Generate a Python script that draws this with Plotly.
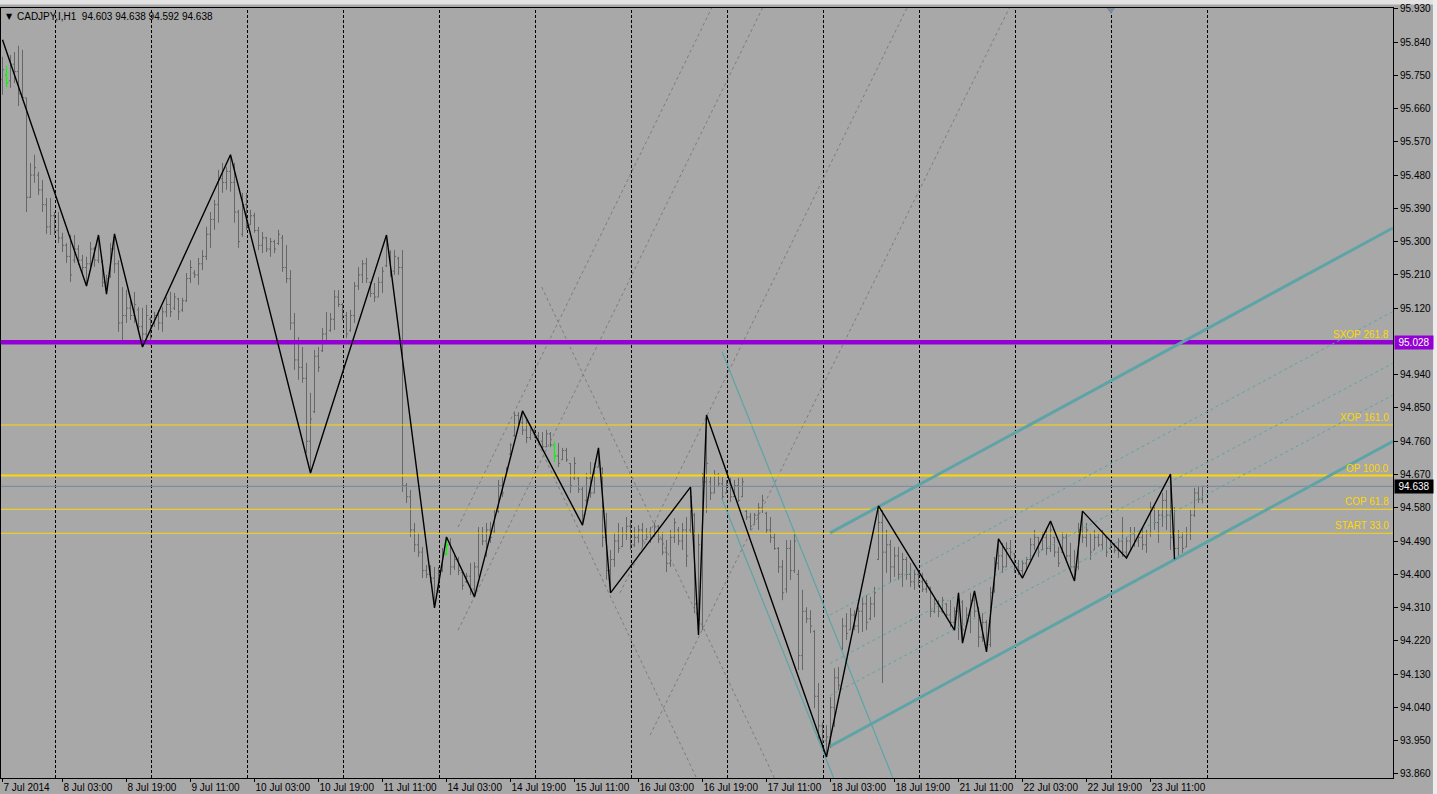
import plotly.graph_objects as go

# ---------------- data ----------------
bar_high = [
95.800,95.775,95.805,95.813,95.830,95.819,95.689,95.513,95.535,95.489,
95.467,95.418,95.418,95.380,95.380,95.324,95.296,95.318,95.318,95.291,
95.264,95.259,95.299,95.286,95.318,95.250,95.210,95.296,95.321,95.250,
95.177,95.169,95.142,95.164,95.123,95.121,95.129,95.096,95.110,95.115,
95.123,95.150,95.164,95.161,95.148,95.148,95.215,95.250,95.223,95.256,
95.277,95.340,95.380,95.413,95.494,95.513,95.502,95.535,95.513,95.386,
95.432,95.432,95.386,95.378,95.340,95.326,95.313,95.310,95.305,95.332,
95.318,95.291,95.223,95.107,95.042,95.015,94.972,94.891,95.007,95.015,
95.066,95.110,95.107,95.169,95.169,95.134,95.110,95.115,95.191,95.231,
95.250,95.256,95.191,95.188,95.204,95.231,95.318,95.277,95.277,95.259,
95.277,94.647,94.628,94.539,94.512,94.474,94.425,94.425,94.420,94.420,
94.471,94.501,94.498,94.452,94.447,94.406,94.404,94.431,94.433,94.528,
94.528,94.539,94.542,94.574,94.655,94.663,94.690,94.755,94.839,94.839,
94.842,94.818,94.799,94.796,94.785,94.785,94.791,94.785,94.758,94.755,
94.742,94.742,94.701,94.717,94.663,94.636,94.674,94.704,94.701,94.742,
94.690,94.566,94.466,94.512,94.539,94.528,94.555,94.547,94.528,94.533,
94.539,94.525,94.528,94.539,94.533,94.514,94.493,94.520,94.552,94.528,
94.539,94.555,94.636,94.566,94.512,94.674,94.831,94.663,94.682,94.674,
94.663,94.655,94.661,94.655,94.661,94.661,94.574,94.566,94.566,94.593,
94.615,94.569,94.555,94.512,94.474,94.439,94.493,94.493,94.512,94.412,
94.358,94.311,94.303,94.249,94.106,94.000,93.992,94.068,94.146,94.149,
94.282,94.295,94.309,94.303,94.311,94.336,94.344,94.339,94.366,94.585,
94.575,94.520,94.493,94.474,94.474,94.458,94.447,94.431,94.412,94.412,
94.404,94.385,94.366,94.339,94.330,94.339,94.322,94.330,94.311,94.350,
94.330,94.311,94.350,94.355,94.311,94.295,94.276,94.366,94.447,94.496,
94.485,94.487,94.493,94.458,94.439,94.439,94.447,94.498,94.520,94.501,
94.514,94.520,94.544,94.501,94.474,94.514,94.512,94.485,94.466,94.539,
94.571,94.539,94.512,94.520,94.512,94.520,94.501,94.493,94.485,94.498,
94.555,94.501,94.528,94.528,94.512,94.528,94.520,94.596,94.582,94.574,
94.620,94.628,94.671,94.582,94.520,94.514,94.528,94.574,94.634,94.636,
94.638]
bar_low = [
95.697,95.719,95.716,95.729,95.667,95.683,95.380,95.418,95.459,95.426,
95.380,95.321,95.318,95.318,95.296,95.272,95.242,95.191,95.242,95.237,
95.210,95.180,95.232,95.232,95.242,95.177,95.158,95.202,95.215,95.056,
95.034,95.080,95.088,95.080,95.056,95.015,95.029,95.020,95.069,95.061,
95.056,95.096,95.096,95.115,95.088,95.110,95.137,95.188,95.202,95.183,
95.223,95.250,95.283,95.332,95.351,95.432,95.440,95.435,95.351,95.283,
95.313,95.332,95.345,95.324,95.277,95.269,95.272,95.259,95.269,95.291,
95.218,95.188,95.061,94.953,94.926,94.918,94.728,94.674,94.836,94.947,
95.001,95.026,95.056,95.061,95.123,95.088,95.039,95.056,95.080,95.169,
95.188,95.188,95.150,95.137,95.150,95.161,95.231,95.204,95.210,95.210,
94.623,94.593,94.501,94.460,94.447,94.390,94.390,94.377,94.309,94.350,
94.406,94.452,94.398,94.412,94.398,94.358,94.377,94.344,94.339,94.393,
94.479,94.447,94.485,94.512,94.566,94.609,94.663,94.723,94.772,94.799,
94.777,94.755,94.763,94.769,94.755,94.736,94.744,94.744,94.704,94.690,
94.709,94.704,94.620,94.655,94.620,94.533,94.593,94.607,94.620,94.690,
94.474,94.385,94.350,94.420,94.458,94.474,94.493,94.466,94.474,94.485,
94.474,94.493,94.485,94.501,94.485,94.452,94.406,94.420,94.485,94.479,
94.466,94.420,94.512,94.295,94.236,94.249,94.566,94.601,94.620,94.636,
94.601,94.620,94.596,94.609,94.596,94.609,94.547,94.520,94.533,94.520,
94.566,94.512,94.485,94.466,94.404,94.330,94.350,94.385,94.404,94.141,
94.141,94.268,94.241,94.038,93.952,93.930,93.906,93.930,93.987,94.087,
94.195,94.222,94.249,94.249,94.241,94.244,94.249,94.276,94.284,94.439,
94.106,94.404,94.377,94.393,94.385,94.366,94.385,94.366,94.358,94.366,
94.352,94.350,94.284,94.295,94.284,94.295,94.284,94.257,94.249,94.222,
94.214,94.257,94.241,94.284,94.203,94.217,94.190,94.203,94.350,94.412,
94.404,94.420,94.447,94.404,94.398,94.390,94.412,94.439,94.466,94.447,
94.466,94.452,94.460,94.447,94.420,94.458,94.439,94.412,94.382,94.412,
94.485,94.474,94.439,94.466,94.474,94.466,94.447,94.466,94.458,94.444,
94.447,94.444,94.466,94.474,94.474,94.466,94.458,94.501,94.520,94.485,
94.528,94.520,94.466,94.441,94.447,94.458,94.474,94.493,94.555,94.593,
94.592]
bar_open = [
95.738,95.750,95.735,95.780,95.760,95.700,95.689,95.420,95.480,95.480,
95.440,95.400,95.340,95.370,95.330,95.310,95.290,95.260,95.250,95.280,
95.250,95.230,95.240,95.280,95.250,95.245,95.190,95.205,95.280,95.240,
95.080,95.100,95.120,95.100,95.115,95.070,95.050,95.090,95.080,95.100,
95.080,95.110,95.130,95.120,95.145,95.115,95.140,95.200,95.215,95.210,
95.240,95.260,95.320,95.360,95.400,95.470,95.460,95.490,95.460,95.380,
95.320,95.400,95.345,95.370,95.330,95.290,95.310,95.280,95.300,95.295,
95.310,95.230,95.200,95.080,94.980,94.960,94.930,94.760,94.840,94.990,
95.005,95.050,95.060,95.090,95.150,95.130,95.100,95.060,95.100,95.180,
95.210,95.240,95.190,95.160,95.150,95.190,95.235,95.270,95.220,95.255,
95.230,94.640,94.610,94.520,94.480,94.460,94.410,94.400,94.390,94.355,
94.410,94.455,94.480,94.420,94.440,94.405,94.380,94.395,94.360,94.420,
94.510,94.490,94.520,94.515,94.570,94.640,94.665,94.725,94.775,94.830,
94.810,94.790,94.770,94.790,94.775,94.760,94.745,94.780,94.750,94.720,
94.710,94.735,94.700,94.660,94.660,94.630,94.600,94.660,94.620,94.690,
94.685,94.500,94.410,94.440,94.490,94.475,94.510,94.530,94.480,94.500,
94.520,94.495,94.510,94.505,94.530,94.495,94.460,94.430,94.500,94.520,
94.490,94.520,94.520,94.560,94.320,94.480,94.650,94.650,94.620,94.670,
94.645,94.620,94.645,94.610,94.640,94.610,94.570,94.555,94.535,94.560,
94.580,94.565,94.520,94.500,94.470,94.420,94.360,94.470,94.410,94.400,
94.180,94.300,94.280,94.245,94.070,93.990,93.950,93.960,94.040,94.120,
94.200,94.260,94.250,94.290,94.260,94.300,94.320,94.280,94.320,94.440,
94.540,94.460,94.480,94.420,94.450,94.400,94.440,94.400,94.380,94.400,
94.380,94.360,94.365,94.300,94.320,94.300,94.320,94.290,94.270,94.300,
94.325,94.260,94.290,94.330,94.300,94.230,94.270,94.210,94.355,94.430,
94.450,94.420,94.470,94.455,94.420,94.410,94.430,94.440,94.480,94.500,
94.466,94.500,94.470,94.500,94.460,94.460,94.500,94.450,94.420,94.420,
94.520,94.500,94.510,94.466,94.500,94.480,94.500,94.470,94.480,94.465,
94.490,94.460,94.490,94.510,94.490,94.500,94.480,94.510,94.575,94.540,
94.560,94.600,94.560,94.500,94.470,94.500,94.474,94.510,94.560,94.620,
94.603]
bar_close = [
95.765,95.730,95.780,95.760,95.700,95.690,95.420,95.480,95.500,95.440,
95.400,95.340,95.370,95.330,95.310,95.290,95.260,95.210,95.280,95.250,
95.230,95.240,95.280,95.250,95.300,95.190,95.200,95.280,95.240,95.080,
95.100,95.120,95.100,95.130,95.070,95.050,95.100,95.040,95.100,95.080,
95.110,95.130,95.110,95.150,95.110,95.140,95.200,95.230,95.210,95.240,
95.260,95.320,95.360,95.400,95.470,95.460,95.490,95.460,95.380,95.300,
95.400,95.340,95.370,95.330,95.290,95.310,95.280,95.300,95.280,95.320,
95.230,95.200,95.080,94.980,94.960,94.930,94.760,94.820,94.990,94.960,
95.050,95.030,95.090,95.150,95.130,95.100,95.050,95.100,95.180,95.210,
95.240,95.200,95.160,95.150,95.190,95.220,95.290,95.220,95.260,95.230,
94.640,94.610,94.520,94.480,94.460,94.410,94.400,94.390,94.330,94.400,
94.450,94.480,94.420,94.440,94.410,94.370,94.395,94.360,94.420,94.510,
94.490,94.520,94.500,94.560,94.640,94.620,94.685,94.750,94.830,94.810,
94.790,94.770,94.790,94.775,94.760,94.745,94.780,94.750,94.720,94.700,
94.735,94.710,94.640,94.700,94.630,94.560,94.660,94.620,94.690,94.700,
94.500,94.410,94.440,94.490,94.470,94.510,94.530,94.480,94.500,94.520,
94.490,94.510,94.500,94.530,94.495,94.460,94.430,94.500,94.540,94.490,
94.520,94.450,94.610,94.320,94.480,94.650,94.700,94.620,94.670,94.645,
94.610,94.645,94.610,94.640,94.600,94.650,94.555,94.530,94.560,94.580,
94.600,94.520,94.500,94.470,94.420,94.350,94.470,94.410,94.490,94.180,
94.300,94.280,94.260,94.070,93.990,93.950,93.960,94.040,94.120,94.100,
94.260,94.240,94.290,94.260,94.300,94.320,94.270,94.320,94.350,94.540,
94.460,94.480,94.420,94.450,94.400,94.440,94.400,94.380,94.400,94.380,
94.360,94.375,94.300,94.320,94.300,94.330,94.290,94.270,94.300,94.330,
94.250,94.290,94.330,94.300,94.230,94.270,94.210,94.350,94.430,94.450,
94.420,94.470,94.460,94.420,94.410,94.430,94.440,94.480,94.500,94.460,
94.500,94.470,94.520,94.460,94.430,94.500,94.450,94.420,94.400,94.520,
94.500,94.520,94.460,94.500,94.480,94.510,94.460,94.480,94.465,94.490,
94.460,94.490,94.510,94.490,94.500,94.480,94.510,94.580,94.540,94.560,
94.600,94.560,94.500,94.470,94.500,94.470,94.510,94.560,94.620,94.603,
94.638]
bar_index = list(range(len(bar_high)))
green_bars = [1, 111, 138]

# zigzag vertices (bar, price)
zz_bars = [0, 21, 24, 26, 28, 35, 57, 77, 96, 108, 111, 118, 130, 145, 149, 152,
           172, 174, 176, 206, 219, 238, 239, 240, 243, 246, 249, 255, 262, 268,
           270, 281, 292, 293]
zz_prices = [95.846, 95.180, 95.318, 95.158, 95.321, 95.015, 95.535, 94.674, 95.318,
             94.309, 94.501, 94.339, 94.842, 94.533, 94.742, 94.350, 94.636, 94.236,
             94.831, 93.906, 94.585, 94.249, 94.350, 94.214, 94.355, 94.190, 94.496,
             94.390, 94.544, 94.382, 94.571, 94.444, 94.671, 94.441]

# gray dashed Gann lines: start/end bar and price
gann_x0 = [113.9, 113.9, 154.4, 161.9, 134.8, 130.0]
gann_p0 = [94.528, 94.249, 94.350, 93.965, 95.177, 94.842]
gann_x1 = [177.3, 190.0, 226.1, 251.7, 193.0, 173.5]
gann_p1 = [95.932, 95.932, 95.932, 95.932, 93.849, 93.849]

# thin teal trend lines
trend_x0 = [179.9, 179.8]
trend_p0 = [95.002, 94.606]
trend_x1 = [222.6, 207.8]
trend_p1 = [93.849, 93.849]

# Fibonacci channel (upper, 38.2, 61.8, 76.4, lower)
chan_x0 = 206.9
chan_x1 = 347.6
chan_p0 = [94.512, 94.290, 94.159, 94.072, 93.935]
chan_p1 = [95.337, 95.111, 94.971, 94.885, 94.760]

# horizontal levels
level_names = ["SXOP 261.8", "XOP 161.0", "OP 100.0", "COP 61.8", "START 33.0"]
level_prices = [95.028, 94.804, 94.667, 94.576, 94.511]
last_price = 94.638

price_ticks = [95.930, 95.840, 95.750, 95.660, 95.570, 95.480, 95.390, 95.300,
               95.210, 95.120, 94.940, 94.850, 94.760, 94.670, 94.580, 94.490,
               94.400, 94.310, 94.220, 94.130, 94.040, 93.950, 93.860]
time_ticks = [0, 15, 31, 47, 63, 79, 95, 111, 127, 143, 159, 175, 191, 207, 223,
              239, 255, 271, 287]
time_labels = ["7 Jul 2014", "8 Jul 03:00", "8 Jul 19:00", "9 Jul 11:00",
               "10 Jul 03:00", "10 Jul 19:00", "11 Jul 11:00", "14 Jul 03:00",
               "14 Jul 19:00", "15 Jul 11:00", "16 Jul 03:00", "16 Jul 19:00",
               "17 Jul 11:00", "18 Jul 03:00", "18 Jul 19:00", "21 Jul 11:00",
               "22 Jul 03:00", "22 Jul 19:00", "23 Jul 11:00"]
grid_bars = [13.25, 37.25, 61.25, 85.25, 109.25, 133.25, 157.25, 181.25,
             205.25, 229.25, 253.25, 277.25, 301.25]
shift_marker_bar = 277.1
header = "CADJPY,I,H1  94.603 94.638 94.592 94.638"

# ---------------- styles ----------------
BG = "#A8A8A8"
BAR = "#666666"
GREEN = "#00FF00"
TEAL = "#5EA4A6"
GOLD = "#FFD700"
PURPLE = "#9400D3"
FONT = "Liberation Sans"
X_MIN, X_MAX = -0.375, 347.625
Y_MIN, Y_MAX = 93.849, 95.932
TW = 0.4

fig = go.Figure()

# Gann dashed lines
for x0, p0, x1, p1 in zip(gann_x0, gann_p0, gann_x1, gann_p1):
    fig.add_trace(go.Scatter(x=[x0, x1], y=[p0, p1], mode="lines",
                             line=dict(color="#7C7C7C", width=1, dash="3px,3px"),
                             hoverinfo="skip"))

# bars
fig.add_trace(go.Ohlc(x=bar_index, open=bar_open, high=bar_high, low=bar_low,
                      close=bar_close, tickwidth=TW,
                      increasing=dict(line=dict(color=BAR, width=1)),
                      decreasing=dict(line=dict(color=BAR, width=1)),
                      hoverinfo="skip"))
gx, gy = [], []
for i in green_bars:
    gx += [i, i, None, i - TW, i, None, i, i + TW, None]
    gy += [bar_low[i], bar_high[i], None, bar_open[i], bar_open[i], None,
           bar_close[i], bar_close[i], None]
fig.add_trace(go.Scatter(x=gx, y=gy, mode="lines", line=dict(color=GREEN, width=1.2),
                         hoverinfo="skip"))

# thin teal lines
for x0, p0, x1, p1 in zip(trend_x0, trend_p0, trend_x1, trend_p1):
    fig.add_trace(go.Scatter(x=[x0, x1], y=[p0, p1], mode="lines",
                             line=dict(color=TEAL, width=1.2), hoverinfo="skip"))

# horizontal levels
fig.add_trace(go.Scatter(x=[X_MIN, X_MAX], y=[last_price, last_price], mode="lines",
                         line=dict(color="#7A8898", width=1), hoverinfo="skip"))
for name, p in zip(level_names, level_prices):
    if name.startswith("SXOP"):
        ln = dict(color=PURPLE, width=4.5)
    elif name.startswith("OP"):
        ln = dict(color=GOLD, width=2)
    else:
        ln = dict(color=GOLD, width=1)
    fig.add_trace(go.Scatter(x=[X_MIN, X_MAX], y=[p, p], mode="lines", line=ln,
                             hoverinfo="skip"))

# channel
for k, (p0, p1) in enumerate(zip(chan_p0, chan_p1)):
    if k in (0, len(chan_p0) - 1):
        ln = dict(color=TEAL, width=3)
    else:
        ln = dict(color=TEAL, width=1, dash="3px,3px")
    fig.add_trace(go.Scatter(x=[chan_x0, chan_x1], y=[p0, p1], mode="lines", line=ln,
                             hoverinfo="skip"))

# zigzag
fig.add_trace(go.Scatter(x=zz_bars, y=zz_prices, mode="lines",
                         line=dict(color="black", width=1.4), hoverinfo="skip"))

# chart shift marker
fig.add_trace(go.Scatter(x=[shift_marker_bar], y=[95.927], mode="markers",
                         marker=dict(symbol="triangle-down", size=8, color="#7D8CA0"),
                         cliponaxis=False, hoverinfo="skip"))

# vertical grid
shapes = []
for g in grid_bars:
    shapes.append(dict(type="line", xref="x", yref="paper", x0=g, x1=g, y0=0, y1=1,
                       layer="below", line=dict(color="black", width=1, dash="3px,2px")))
# window strips
shapes.append(dict(type="rect", xref="paper", yref="paper", x0=-0.01, x1=1.04,
                   y0=1.0045, y1=1.02, fillcolor="#E2E2E2", line=dict(width=0),
                   layer="below"))
shapes.append(dict(type="rect", xref="paper", yref="paper", x0=1.0287, x1=1.04,
                   y0=-0.03, y1=1.02, fillcolor="#ECECEC", line=dict(width=0),
                   layer="below"))

annotations = []
for name, p in zip(level_names, level_prices):
    annotations.append(dict(xref="paper", yref="y", x=1, y=p, xanchor="right",
                            yanchor="bottom", xshift=-2, yshift=0, text=name,
                            showarrow=False, font=dict(family=FONT, size=10, color=GOLD)))
annotations.append(dict(xref="paper", yref="y", x=1, y=level_prices[0], xanchor="left",
                        yanchor="middle", xshift=1, text="95.028", showarrow=False,
                        bgcolor=PURPLE, width=36, height=11, borderpad=1,
                        font=dict(family=FONT, size=10, color="white")))
annotations.append(dict(xref="paper", yref="y", x=1, y=last_price, xanchor="left",
                        yanchor="middle", xshift=1, text="94.638", showarrow=False,
                        bgcolor="black", width=36, height=11, borderpad=1,
                        font=dict(family=FONT, size=10, color="white")))
annotations.append(dict(xref="paper", yref="paper", x=0, y=0.9896, xanchor="left",
                        yanchor="middle", xshift=3, text="▼", showarrow=False,
                        font=dict(family="DejaVu Sans", size=8, color="black")))
annotations.append(dict(xref="paper", yref="paper", x=0, y=0.9896, xanchor="left",
                        yanchor="middle", xshift=14, text=header, showarrow=False,
                        font=dict(family=FONT, size=10, color="black")))

fig.update_layout(width=1437, height=794, margin=dict(l=1, r=44, t=8, b=16),
                  paper_bgcolor=BG, plot_bgcolor=BG, showlegend=False,
                  font=dict(family=FONT, size=10, color="black"),
                  shapes=shapes, annotations=annotations)
fig.update_xaxes(range=[X_MIN, X_MAX], showgrid=False, zeroline=False, showline=True,
                 linecolor="black", linewidth=1, mirror=True, ticks="outside",
                 ticklen=3, tickcolor="black", tickvals=time_ticks, ticktext=time_labels,
                 ticklabelposition="outside right", rangeslider=dict(visible=False),
                 tickfont=dict(family=FONT, size=10, color="black"))
fig.update_yaxes(range=[Y_MIN, Y_MAX], side="right", showgrid=False, zeroline=False,
                 showline=True, linecolor="black", linewidth=1, mirror=True,
                 ticks="outside", ticklen=4, tickcolor="black", tickvals=price_ticks,
                 ticktext=[f"{v:.3f}" for v in price_ticks],
                 tickfont=dict(family=FONT, size=10, color="black"))

fig.write_html("out.html", config={"displayModeBar": False},
               post_script="document.body.style.margin='0';document.body.style.overflow='hidden';")
